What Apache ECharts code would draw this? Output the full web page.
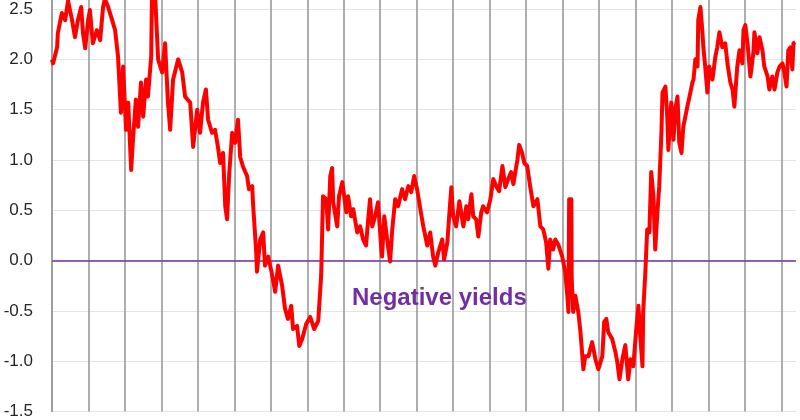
<!DOCTYPE html>
<html>
<head>
<meta charset="utf-8">
<script src="https://cdn.jsdelivr.net/npm/echarts@6/dist/echarts.min.js"></script>
<style>
html,body{margin:0;padding:0;background:#fff;}
#chart{width:800px;height:420px;}
</style>
</head>
<body>
<div id="chart"></div>
<script>
// Time in years from the start of the series (one vertical gridline per year)
const years = [
0.00,0.03,0.14,0.16,0.27,0.36,0.44,0.55,0.63,0.71,0.80,0.85,0.91,0.99,1.04,1.12,1.23,1.32,1.40,1.45,
1.54,1.65,1.73,1.81,1.89,1.95,2.03,2.09,2.17,2.22,2.30,2.36,2.44,2.50,2.58,2.63,2.72,2.74,2.83,2.91,
3.02,3.10,3.18,3.24,3.32,3.46,3.57,3.65,3.79,3.87,3.98,4.06,4.14,4.22,4.28,4.39,4.47,4.55,4.61,4.69,
4.75,4.80,4.86,4.94,5.02,5.10,5.16,5.24,5.35,5.40,5.49,5.51,5.60,5.62,5.71,5.79,5.84,5.93,6.04,6.12,
6.20,6.31,6.39,6.47,6.56,6.61,6.72,6.78,6.86,6.97,7.08,7.19,7.30,7.38,7.41,7.43,7.52,7.57,7.63,7.68,
7.71,7.82,7.87,7.96,7.98,8.07,8.12,8.20,8.26,8.37,8.45,8.53,8.61,8.67,8.72,8.78,8.86,8.94,9.03,9.05,
9.11,9.19,9.27,9.33,9.41,9.49,9.60,9.68,9.77,9.85,9.93,10.01,10.07,10.10,10.18,10.29,10.37,10.45,10.51,10.59,
10.70,10.75,10.84,10.89,10.95,11.00,11.08,11.17,11.28,11.36,11.41,11.50,11.55,11.63,11.69,11.77,11.82,11.93,12.02,12.10,
12.18,12.26,12.35,12.43,12.51,12.59,12.65,12.76,12.81,12.89,12.95,13.03,13.11,13.20,13.31,13.39,13.47,13.55,13.61,13.66,
13.74,13.80,13.88,13.99,14.07,14.13,14.16,14.18,14.24,14.25,14.29,14.35,14.43,14.49,14.57,14.62,14.71,14.81,14.90,14.98,
15.09,15.14,15.20,15.25,15.36,15.45,15.50,15.56,15.64,15.72,15.80,15.86,15.94,16.02,16.08,16.13,16.19,16.21,16.27,16.32,
16.38,16.43,16.49,16.54,16.60,16.65,16.71,16.74,16.82,16.87,16.90,16.98,17.04,17.09,17.15,17.20,17.26,17.31,17.42,17.48,
17.56,17.59,17.64,17.70,17.72,17.78,17.83,17.86,17.91,17.97,18.02,18.11,18.19,18.24,18.30,18.38,18.46,18.52,18.60,18.66,
18.71,18.79,18.85,18.93,18.96,19.01,19.07,19.15,19.23,19.26,19.34,19.40,19.48,19.53,19.62,19.67,19.75,19.81,19.89,19.95,
20.03,20.08,20.14,20.19,20.25,20.30,20.33,20.38
];
// Yield (%)
const yields = [
2.00,1.96,2.12,2.26,2.46,2.39,2.58,2.39,2.22,2.39,2.52,2.26,2.11,2.39,2.49,2.16,2.29,2.19,2.52,2.60,
2.52,2.39,2.29,2.03,1.47,1.93,1.30,1.57,0.90,1.20,1.60,1.33,1.77,1.43,1.80,1.63,2.03,2.60,2.62,2.00,
1.87,2.16,1.57,1.30,1.80,2.00,1.87,1.63,1.57,1.13,1.50,1.27,1.57,1.70,1.40,1.27,1.30,1.13,0.97,1.07,
0.54,0.41,0.87,1.27,1.17,1.40,1.03,0.93,0.84,0.71,0.74,0.58,0.08,-0.11,0.21,0.28,-0.05,0.04,-0.15,-0.31,
-0.05,-0.25,-0.48,-0.58,-0.45,-0.68,-0.65,-0.85,-0.78,-0.63,-0.56,-0.68,-0.60,-0.15,0.31,0.64,0.61,0.31,0.84,0.92,
0.58,0.34,0.64,0.78,0.79,0.48,0.64,0.44,0.51,0.28,0.34,0.21,0.15,0.41,0.61,0.34,0.44,0.58,0.11,0.04,
0.44,0.21,-0.01,0.31,0.61,0.54,0.71,0.61,0.74,0.68,0.84,0.71,0.58,0.51,0.34,0.15,0.28,0.04,-0.05,0.08,
0.21,0.01,0.18,0.44,0.73,0.44,0.34,0.59,0.34,0.54,0.41,0.66,0.44,0.41,0.24,0.48,0.54,0.48,0.61,0.81,
0.74,0.69,0.94,0.73,0.81,0.88,0.76,1.00,1.15,1.07,0.97,0.94,0.74,0.54,0.61,0.34,0.31,0.18,-0.08,0.21,
0.11,0.21,0.16,0.04,-0.11,-0.35,-0.51,0.61,0.61,-0.18,-0.51,-0.35,-0.51,-0.71,-1.08,-0.95,-0.95,-0.81,-0.98,-1.08,
-0.95,-0.61,-0.58,-0.71,-0.78,-0.91,-1.01,-1.18,-0.98,-0.84,-1.18,-0.98,-1.05,-0.68,-0.45,-0.75,-1.05,-0.51,-0.11,0.31,
0.28,0.88,0.64,0.11,0.48,0.74,1.27,1.67,1.73,1.43,1.10,1.57,1.20,1.50,1.63,1.17,1.07,1.33,1.53,1.63,
1.77,1.80,2.00,1.93,2.39,2.52,2.29,2.12,1.93,1.67,1.93,1.80,2.03,2.12,2.27,2.12,2.16,1.96,1.77,1.70,
1.53,1.93,2.09,1.96,2.29,2.34,2.16,1.83,2.06,2.27,2.06,2.22,2.09,1.93,1.83,1.70,1.83,1.70,1.87,1.93,
1.96,1.87,1.73,2.09,2.12,1.90,2.16,2.17
];
const yTicks = [-1.5, -1.0, -0.5, 0.0, 0.5, 1.0, 1.5, 2.0, 2.5];
const annotation = 'Negative yields';

const seriesData = years.map((t, i) => [t, yields[i]]);

const chart = echarts.init(document.getElementById('chart'), null, {renderer: 'canvas'});
chart.setOption({
  animation: false,
  backgroundColor: '#ffffff',
  grid: {left: 52, right: 4, top: 0, bottom: 7, containLabel: false},
  xAxis: {
    type: 'value', min: 0, max: 20.4, interval: 1,
    axisLine: {show: true, lineStyle: {color: '#d9d9d9', width: 1}},
    axisTick: {show: false},
    axisLabel: {show: false},
    splitLine: {show: true, showMaxLine: false, lineStyle: {color: '#9a9a9a', width: 1.6}}
  },
  yAxis: {
    type: 'value', min: -1.5, max: 2.59, interval: 0.5,
    axisLine: {show: true, lineStyle: {color: '#9a9a9a', width: 1.6}},
    axisTick: {show: false},
    axisLabel: {
      showMaxLabel: false,
      margin: 19, fontSize: 17, color: '#262626', fontFamily: 'Liberation Sans, Arial, sans-serif',
      formatter: v => {
        const m = yTicks.find(t => Math.abs(t - v) < 1e-6);
        return m === undefined ? '' : m.toFixed(1);
      }
    },
    splitLine: {show: true, showMaxLine: false, lineStyle: {color: '#e4e4e4', width: 1}}
  },
  series: [{
    type: 'line',
    data: seriesData,
    showSymbol: false,
    clip: false,
    lineStyle: {color: '#ff0000', width: 4, join: 'round'},
    z: 5,
    markLine: {
      silent: true, symbol: 'none', label: {show: false},
      lineStyle: {color: '#7030a0', width: 1.6, type: 'solid'},
      data: [{yAxis: 0}],
      z: 3
    }
  }],
  graphic: [{
    type: 'text', left: 352, top: 286,
    style: {text: annotation, fill: '#7030a0', font: 'bold 24px "Liberation Sans", Arial, sans-serif'},
    z: 10
  }]
});
</script>
</body>
</html>
